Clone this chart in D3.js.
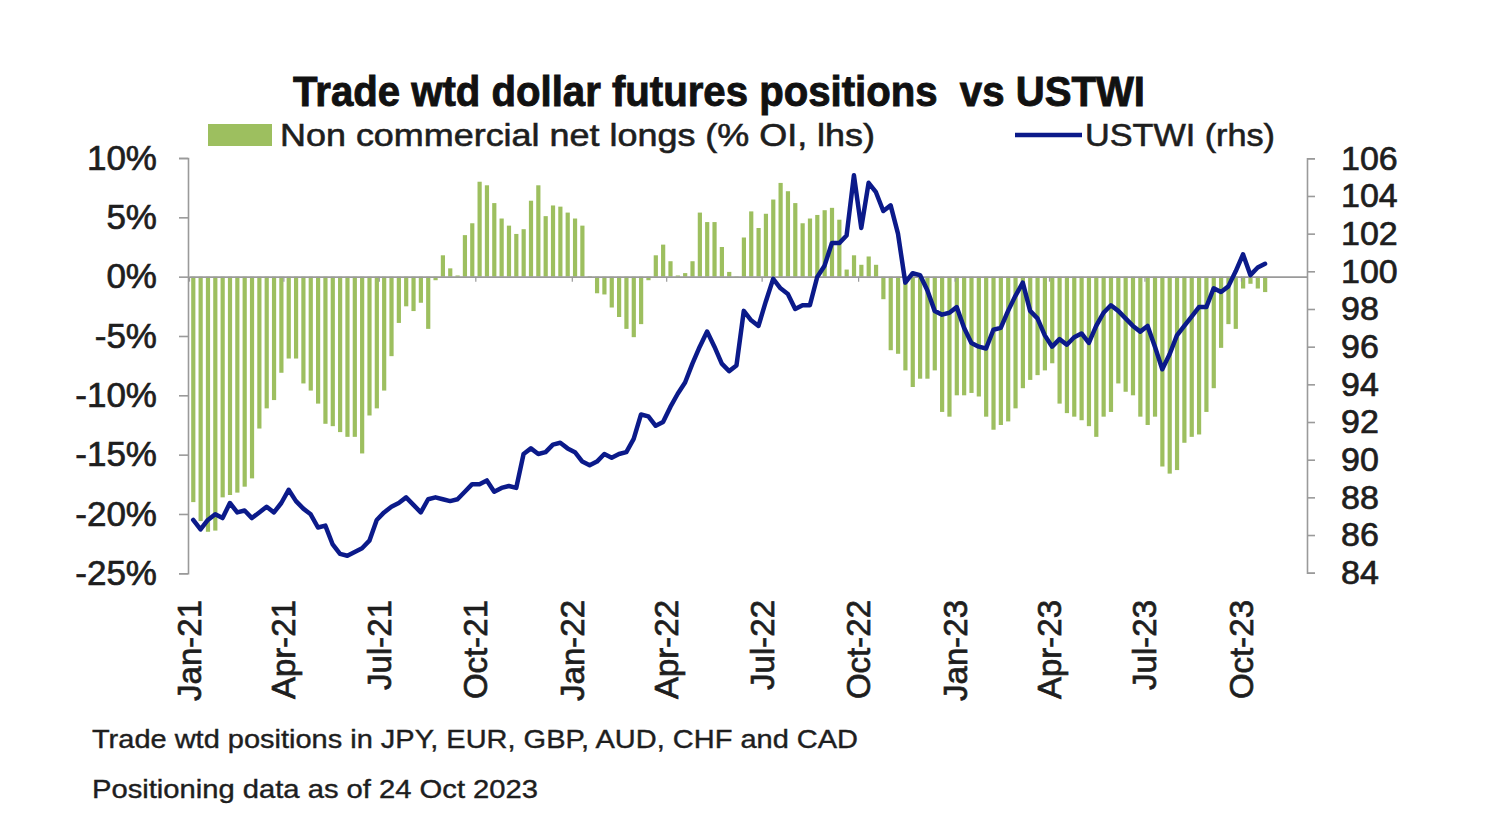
<!DOCTYPE html>
<html><head><meta charset="utf-8">
<script src="https://cdn.jsdelivr.net/npm/d3@7"></script>
<style>
body{margin:0;background:#fff;}
svg{display:block;font-family:"Liberation Sans",Arial,sans-serif;}
</style>
</head><body>
<svg id="c" width="1496" height="838"></svg>
<script>
// ---------------- data ----------------
const title = "Trade wtd dollar futures positions  vs USTWI";
const barLabel = "Non commercial net longs (% OI, lhs)";
const lineLabel = "USTWI (rhs)";
const notes = ["Trade wtd positions in JPY, EUR, GBP, AUD, CHF and CAD",
               "Positioning data as of 24 Oct 2023"];
const firstWeek = "2021-01-05"; // weekly observations (Tuesdays)
// Non commercial net longs, % of open interest (lhs)
const positions = [
 -19.0,-20.6,-21.5,-21.4,-18.6,-18.4,-18.2,-17.7,-17.0,-12.8,
 -11.1,-10.4,-8.1,-6.9,-6.9,-9.0,-9.6,-10.7,-12.4,-12.6,
 -13.1,-13.5,-13.5,-14.9,-11.7,-11.1,-9.6,-6.7,-3.9,-2.5,
 -2.9,-2.2,-4.4,-0.3,1.8,0.7,0.1,3.5,4.5,8.0,
 7.7,6.2,4.9,4.3,3.6,4.0,6.4,7.7,5.1,6.0,
 5.9,5.4,4.9,4.3,0.05,-1.4,-1.5,-2.6,-3.4,-4.4,
 -5.1,-4.0,-0.3,1.8,2.7,1.3,0.1,0.3,1.3,5.4,
 4.6,4.6,2.5,0.4,-0.05,3.3,5.5,4.1,5.3,6.5,
 7.9,7.2,6.2,4.5,4.9,5.2,5.6,5.8,4.8,0.6,
 1.8,1.0,1.7,1.0,-1.9,-6.2,-6.5,-7.9,-9.3,-8.6,
 -8.6,-7.9,-11.4,-11.8,-10.0,-10.0,-9.8,-10.1,-11.8,-12.9,
 -12.5,-12.2,-11.1,-9.4,-8.7,-8.3,-7.9,-7.3,-10.7,-11.5,
 -11.8,-12.1,-12.6,-13.5,-11.8,-11.4,-9.0,-9.7,-10.0,-11.8,
 -12.5,-11.8,-16.0,-16.6,-16.3,-14.0,-13.5,-13.3,-11.4,-9.4,
 -6.0,-4.0,-4.4,-1.0,-0.6,-1.0,-1.3
];
// USTWI index (rhs)
const ustwi = [
 86.8,86.3,86.8,87.1,86.9,87.7,87.2,87.3,86.9,87.2,
 87.5,87.2,87.7,88.4,87.8,87.4,87.1,86.4,86.5,85.5,
 85.0,84.9,85.1,85.3,85.7,86.8,87.2,87.5,87.7,88.0,
 87.6,87.2,87.9,88.0,87.9,87.8,87.9,88.3,88.7,88.7,
 88.9,88.3,88.5,88.6,88.5,90.3,90.6,90.3,90.4,90.8,
 90.9,90.6,90.4,89.9,89.7,89.9,90.3,90.1,90.3,90.4,
 91.1,92.4,92.3,91.8,92.0,92.8,93.5,94.1,95.1,96.0,
 96.8,96.0,95.1,94.7,95.0,97.9,97.4,97.1,98.4,99.6,
 99.1,98.8,98.0,98.2,98.2,99.7,100.3,101.5,101.5,101.9,
 105.1,102.3,104.7,104.2,103.2,103.5,102.0,99.4,99.9,99.8,
 99.0,97.9,97.7,97.8,98.1,97.0,96.2,96.0,95.9,96.9,
 97.0,97.9,98.7,99.4,97.9,97.5,96.6,96.0,96.4,96.1,
 96.5,96.7,96.2,97.1,97.8,98.2,97.9,97.5,97.1,96.8,
 97.1,96.0,94.8,95.6,96.6,97.1,97.6,98.1,98.1,99.1,
 98.9,99.2,100.0,100.9,99.8,100.2,100.4
];
const leftTicks = [10,5,0,-5,-10,-15,-20,-25];
const rightTicks = [106,104,102,100,98,96,94,92,90,88,86,84];
const xTickDates = ["2021-01-01","2021-04-01","2021-07-01","2021-10-01",
  "2022-01-01","2022-04-01","2022-07-01","2022-10-01",
  "2023-01-01","2023-04-01","2023-07-01","2023-10-01"];
const xTickLabels = ["Jan-21","Apr-21","Jul-21","Oct-21","Jan-22","Apr-22",
  "Jul-22","Oct-22","Jan-23","Apr-23","Jul-23","Oct-23"];
const xDomain = ["2021-01-01","2023-12-03"];

// ---------------- chart ----------------
const svg = d3.select("#c");
const parse = d3.utcParse("%Y-%m-%d");
const start = parse(firstWeek);
const dates = positions.map((_, i) => d3.utcDay.offset(start, 7 * i));

const x = d3.scaleUtc().domain(xDomain.map(parse)).range([189, 1307]);
const yL = d3.scaleLinear().domain([-25, 10]).range([573.3, 158]);
const yR = d3.scaleLinear().domain([84, 106]).range([572.7, 158.3]);

const green = "#9dbf5f", navy = "#0b1a8a", axisCol = "#9a9a9a", ink = "#1e1e1e";

// bars
svg.append("g").selectAll("rect").data(positions).join("rect")
  .attr("x", (d, i) => x(dates[i]) - 2)
  .attr("width", 4.2)
  .attr("y", d => yL(Math.max(0, d)))
  .attr("height", d => Math.abs(yL(d) - yL(0)))
  .attr("fill", green);

// zero line with quarter ticks
const xAxis = d3.axisBottom(x).tickValues(xTickDates.map(parse))
  .tickFormat("").tickSize(5).tickSizeOuter(0);
const gx = svg.append("g").attr("transform", `translate(0,${yL(0)})`).call(xAxis);
gx.select(".domain").attr("stroke", axisCol).attr("stroke-width", 1.6);
gx.selectAll(".tick line").attr("stroke", axisCol).attr("stroke-width", 1.2);

// left axis
const gl = svg.append("g").attr("transform", "translate(188,0)")
  .call(d3.axisLeft(yL).tickValues(leftTicks).tickFormat(d => d + "%").tickSize(9).tickSizeOuter(9).tickPadding(22));
gl.select(".domain").attr("stroke", axisCol).attr("stroke-width", 1.6);
gl.selectAll(".tick line").attr("stroke", axisCol).attr("stroke-width", 1.6);
gl.selectAll(".tick text").attr("font-size", 35).attr("fill", ink)
  .attr("stroke", ink).attr("stroke-width", 0.7)
  .attr("font-family", "Liberation Sans, Arial, sans-serif");

// right axis
const gr = svg.append("g").attr("transform", "translate(1307,0)")
  .call(d3.axisRight(yR).tickValues(rightTicks).tickSize(8).tickSizeOuter(8).tickPadding(26));
gr.select(".domain").attr("stroke", axisCol).attr("stroke-width", 1.6);
gr.selectAll(".tick line").attr("stroke", axisCol).attr("stroke-width", 1.6);
gr.selectAll(".tick text").attr("font-size", 34).attr("fill", ink)
  .attr("stroke", ink).attr("stroke-width", 0.7)
  .attr("font-family", "Liberation Sans, Arial, sans-serif");

// line
svg.append("path").datum(ustwi)
  .attr("fill", "none").attr("stroke", navy).attr("stroke-width", 4.5)
  .attr("stroke-linejoin", "round").attr("stroke-linecap", "round")
  .attr("d", d3.line().x((d, i) => x(dates[i])).y(d => yR(d)));

// x labels (rotated)
svg.append("g").selectAll("text").data(xTickDates).join("text")
  .attr("transform", d => `translate(${x(parse(d))},600) rotate(-90)`)
  .attr("text-anchor", "end").attr("dy", "0.36em")
  .attr("font-size", 33).attr("fill", ink)
  .attr("stroke", ink).attr("stroke-width", 0.7)
  .text((d, i) => xTickLabels[i]);

// title
svg.append("text").attr("x", 293).attr("y", 106)
  .attr("font-size", 42).attr("font-weight", "bold").attr("fill", "#111")
  .attr("stroke", "#111").attr("stroke-width", 0.9)
  .attr("textLength", 852).attr("lengthAdjust", "spacingAndGlyphs")
  .attr("xml:space", "preserve")
  .text(title);

// legend
svg.append("rect").attr("x", 208).attr("y", 124).attr("width", 64).attr("height", 22).attr("fill", green);
svg.append("text").attr("x", 280).attr("y", 146).attr("font-size", 32).attr("fill", ink)
  .attr("stroke", ink).attr("stroke-width", 0.6)
  .attr("textLength", 595).attr("lengthAdjust", "spacingAndGlyphs").text(barLabel);
svg.append("line").attr("x1", 1015).attr("x2", 1082).attr("y1", 135).attr("y2", 135)
  .attr("stroke", navy).attr("stroke-width", 4.5);
svg.append("text").attr("x", 1085).attr("y", 146).attr("font-size", 32).attr("fill", ink)
  .attr("stroke", ink).attr("stroke-width", 0.6)
  .attr("textLength", 190).attr("lengthAdjust", "spacingAndGlyphs").text(lineLabel);

// notes
svg.append("g").selectAll("text").data(notes).join("text")
  .attr("x", 92).attr("y", (d, i) => 748 + i * 50)
  .attr("font-size", 26).attr("fill", ink)
  .attr("stroke", ink).attr("stroke-width", 0.4)
  .attr("textLength", (d, i) => i === 0 ? 766 : 446).attr("lengthAdjust", "spacingAndGlyphs")
  .text(d => d);
</script>
</body></html>
